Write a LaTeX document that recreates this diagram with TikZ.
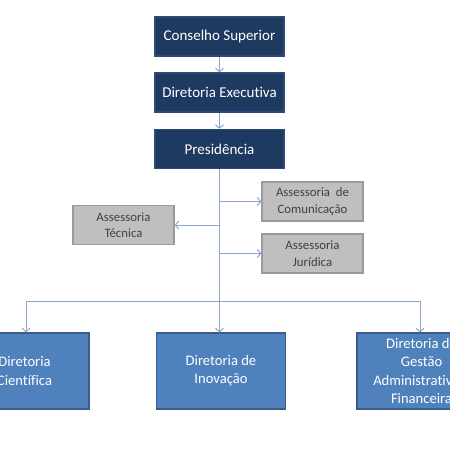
\documentclass[tikz,border=0pt]{standalone}
\usepackage{fontspec}
\setmainfont{Carlito}[Ligatures=NoCommon]
\usetikzlibrary{arrows.meta}
\definecolor{navy}{HTML}{1F3A60}
\definecolor{navyb}{HTML}{2C4A74}
\definecolor{grayf}{HTML}{BFBFBF}
\definecolor{grayb}{HTML}{9A9A9A}
\definecolor{grayt}{HTML}{404040}
\definecolor{bluef}{HTML}{4F81BD}
\definecolor{blueb}{HTML}{385D8A}
\definecolor{connc}{HTML}{8BA7CE}
\tikzset{
  navybox/.style={draw=navyb, fill=navy, line width=1.2pt, minimum width=129pt, minimum height=39pt, inner sep=0pt, text=white, font=\fontsize{15}{18}\selectfont},
  graybox/.style={draw=grayb, fill=grayf, line width=1.2pt, minimum width=101pt, minimum height=39pt, inner sep=0pt, text=grayt, align=center, font=\fontsize{12.8}{16.5}\selectfont},
  bluebox/.style={draw=blueb, fill=bluef, line width=1.2pt, minimum width=129pt, minimum height=76pt, inner sep=0pt, text=white, align=center, font=\fontsize{14.6}{18.3}\selectfont},
  conn/.style={draw=connc, line width=1pt},
  arr/.style={conn, -{Straight Barb[length=3.5pt,width=8pt]}}
}
\begin{document}
\begin{tikzpicture}[x=1pt,y=-1pt]
\useasboundingbox (0,0) rectangle (450,450);
\clip (0,0) rectangle (450,450);
\fill[white] (0,0) rectangle (450,450);
% top chain
\node[navybox] (cs) at (219.5,36.5) {Conselho Superior};
\node[navybox] (de) at (219.5,92.5) {Diretoria Executiva};
\node[navybox] (pr) at (219.5,149) {Presidência};
% advisory
\node[graybox] (at) at (123.5,225) {Assessoria\\Técnica};
\node[graybox] (ac) at (312.5,201.5) {Assessoria\ \ de\\Comunicação};
\node[graybox] (aj) at (312.5,253.5) {Assessoria\\Jurídica};
% directorates
\node[bluebox] (dc) at (24.5,371) {Diretoria\\Científica};
\node[bluebox] (di) at (221,371) {Diretoria de\\Inovação};
\node[bluebox] (dg) at (421.5,371) {Diretoria de\\Gestão\\Administrativa e\\Financeira};
\coordinate (bus) at (219.5,301);
% connectors
\draw[arr] (cs.south) -- (de.north);
\draw[arr] (de.south) -- (pr.north);
\draw[arr] (pr.south) -- (pr.south |- di.north);
\draw[arr] (pr.south |- ac.west) -- (ac.west);
\draw[arr] (pr.south |- at.east) -- (at.east);
\draw[arr] (pr.south |- aj.west) -- (aj.west);
\draw[conn] ([xshift=1.5pt]dc.north |- bus) -- ([xshift=-1.5pt]dg.north |- bus);
\draw[arr] ([xshift=1.5pt]dc.north |- bus) -- ([xshift=1.5pt]dc.north);
\draw[arr] ([xshift=-1.5pt]dg.north |- bus) -- ([xshift=-1.5pt]dg.north);
\end{tikzpicture}
\end{document}
